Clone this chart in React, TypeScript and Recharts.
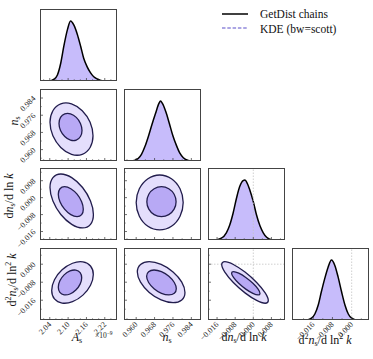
import React from "react";
import { ComposedChart, Area, Scatter, XAxis, YAxis, ReferenceLine } from "recharts";

// axis ranges and ticks
const asDomain = [2.008, 2.26];
const nsDomain = [0.9547, 0.9882];
const dnDomain = [-0.02, 0.014];
const d2Domain = [-0.0248, 0.0072];

const asTicks = [2.04, 2.1, 2.16, 2.22];
const nsTicks = [0.96, 0.968, 0.976, 0.984];
const dnTicks = [-0.016, -0.008, 0, 0.008];
const d2Ticks = [-0.016, -0.008, 0];

const asMinor = [2.02, 2.06, 2.08, 2.12, 2.14, 2.18, 2.2, 2.24];
const nsMinor = [0.956, 0.964, 0.972, 0.98];
const dnMinor = [-0.012, -0.004, 0.004, 0.012];
const d2Minor = [-0.02, -0.012, -0.004, 0.004];

// 1D marginals (normalised to peak = 1)
const asGrid = [2.038, 2.054, 2.065, 2.076, 2.086, 2.098, 2.108, 2.119, 2.13, 2.141, 2.151, 2.162, 2.173, 2.184, 2.195, 2.211];
const asDens = [0, 0.03, 0.1, 0.3, 0.58, 0.86, 1.0, 0.93, 0.78, 0.58, 0.38, 0.24, 0.14, 0.07, 0.035, 0.005];

const nsGrid = [0.9577, 0.9608, 0.9623, 0.9638, 0.9653, 0.9668, 0.9684, 0.9699, 0.9706, 0.9714, 0.9729, 0.9744, 0.9759, 0.9775, 0.979, 0.9805, 0.9827, 0.985];
const nsDens = [0, 0.04, 0.11, 0.24, 0.41, 0.6, 0.79, 0.96, 1.0, 0.96, 0.82, 0.63, 0.43, 0.26, 0.13, 0.055, 0.01, 0];

const dnGrid = [-0.017, -0.0141, -0.0119, -0.0104, -0.0089, -0.0074, -0.006, -0.0045, -0.0037, -0.003, -0.0015, 0, 0.0014, 0.0029, 0.0044, 0.0059, 0.0081];
const dnDens = [0, 0.03, 0.12, 0.25, 0.45, 0.7, 0.89, 0.99, 1.0, 0.97, 0.83, 0.64, 0.42, 0.24, 0.12, 0.045, 0.005];

const d2Grid = [-0.0188, -0.0167, -0.0153, -0.0139, -0.0126, -0.0112, -0.0098, -0.0084, -0.007, -0.0056, -0.0042, -0.0028, -0.0014, 0, 0.0021];
const d2Dens = [0, 0.03, 0.1, 0.25, 0.47, 0.69, 0.88, 1.0, 0.91, 0.71, 0.47, 0.25, 0.1, 0.03, 0];

// 2D contours (outer = 95%, inner = 68%), [x, y] pairs
const asNsOuter = [[2.1815, 0.9664], [2.172, 0.961], [2.1463, 0.9578], [2.1111, 0.9578], [2.0759, 0.961], [2.0502, 0.9664], [2.0407, 0.9727], [2.0502, 0.9781], [2.0759, 0.9813], [2.1111, 0.9813], [2.1463, 0.9781], [2.172, 0.9727]];
const asNsInner = [[2.1455, 0.9689], [2.1404, 0.9661], [2.1267, 0.9644], [2.1078, 0.9644], [2.089, 0.9661], [2.0752, 0.9689], [2.0702, 0.9722], [2.0752, 0.975], [2.089, 0.9766], [2.1078, 0.9766], [2.1267, 0.975], [2.1404, 0.9722]];

const asDnOuter = [[2.1828, -0.00795], [2.1733, -0.01261], [2.1473, -0.01432], [2.1118, -0.01261], [2.0762, -0.00795], [2.0503, -0.00158], [2.0407, 0.0048], [2.0503, 0.00946], [2.0762, 0.01117], [2.1118, 0.00946], [2.1473, 0.0048], [2.1733, -0.00158]];
const asDnInner = [[2.1497, -0.00545], [2.1443, -0.00804], [2.1293, -0.00899], [2.1088, -0.00804], [2.0884, -0.00545], [2.0734, -0.00191], [2.0679, 0.00163], [2.0734, 0.00422], [2.0884, 0.00517], [2.1088, 0.00422], [2.1293, 0.00163], [2.1443, -0.00191]];

const nsDnOuter = [[0.98045, -0.00228], [0.97908, -0.00877], [0.97534, -0.01353], [0.97023, -0.01526], [0.96511, -0.01353], [0.96137, -0.00877], [0.96, -0.00228], [0.96137, 0.00421], [0.96511, 0.00896], [0.97023, 0.0107], [0.97534, 0.00896], [0.97908, 0.00421]];
const nsDnInner = [[0.97736, -0.00191], [0.97651, -0.00545], [0.97418, -0.00804], [0.971, -0.00899], [0.96782, -0.00804], [0.96549, -0.00545], [0.96464, -0.00191], [0.96549, 0.00163], [0.96782, 0.00422], [0.971, 0.00517], [0.97418, 0.00422], [0.97651, 0.00163]];

const asD2Outer = [[2.1825, -0.00458], [2.1733, -0.00933], [2.1484, -0.01374], [2.1144, -0.01665], [2.0803, -0.01727], [2.0554, -0.01544], [2.0463, -0.01166], [2.0554, -0.00691], [2.0803, -0.00249], [2.1144, 0.00042], [2.1484, 0.00103], [2.1733, -0.0008]];
const asD2Inner = [[2.1445, -0.00599], [2.1393, -0.00885], [2.1253, -0.0115], [2.1062, -0.01325], [2.087, -0.01362], [2.073, -0.01252], [2.0679, -0.01024], [2.073, -0.00739], [2.087, -0.00474], [2.1062, -0.00299], [2.1253, -0.00262], [2.1393, -0.00372]];

const nsD2Outer = [[0.98122, -0.01254], [0.97983, -0.01587], [0.97604, -0.01709], [0.97086, -0.01587], [0.96568, -0.01254], [0.96189, -0.00798], [0.9605, -0.00343], [0.96189, -0.0001], [0.96568, 0.00112], [0.97086, -0.0001], [0.97604, -0.00343], [0.97983, -0.00798]];
const nsD2Inner = [[0.97745, -0.01089], [0.97659, -0.01293], [0.97423, -0.01367], [0.971, -0.01293], [0.96777, -0.01089], [0.96541, -0.00812], [0.96454, -0.00534], [0.96541, -0.00331], [0.96777, -0.00257], [0.971, -0.00331], [0.97423, -0.00534], [0.97659, -0.00812]];

const dnD2Outer = [[0.00663, -0.01611], [0.00525, -0.01735], [0.00148, -0.01611], [-0.00366, -0.01274], [-0.00881, -0.00812], [-0.01257, -0.0035], [-0.01395, -0.00012], [-0.01257, 0.00112], [-0.00881, -0.00012], [-0.00366, -0.0035], [0.00148, -0.00812], [0.00525, -0.01274]];
const dnD2Inner = [[0.00296, -0.01297], [0.00212, -0.01367], [-0.00017, -0.01297], [-0.00331, -0.01107], [-0.00644, -0.00847], [-0.00874, -0.00588], [-0.00958, -0.00398], [-0.00874, -0.00328], [-0.00644, -0.00398], [-0.00331, -0.00588], [-0.00017, -0.00847], [0.00212, -0.01107]];

const PW = 77;
const PH = 72;
const YW = 40;
const XH = 45;
const colLeft = [40, 124, 208, 292];
const rowTop = [9, 89, 168, 248];

const SERIF = "'Liberation Serif', 'DejaVu Serif', serif";
const OUTER_FILL = "#e4defc";
const INNER_FILL = "#b8a9f5";
const MARG_FILL = "#c7bcfb";
const EDGE = "#221d4d";

const fmt2 = (v: number) => v.toFixed(2);
const fmt3 = (v: number) => (v < -1e-12 ? "\u2212" : "") + Math.abs(v).toFixed(3);

type Param = { domain: number[]; ticks: number[]; minor: number[]; fmt: (v: number) => string };
const pAs: Param = { domain: asDomain, ticks: asTicks, minor: asMinor, fmt: fmt2 };
const pNs: Param = { domain: nsDomain, ticks: nsTicks, minor: nsMinor, fmt: fmt3 };
const pDn: Param = { domain: dnDomain, ticks: dnTicks, minor: dnMinor, fmt: fmt3 };
const pD2: Param = { domain: d2Domain, ticks: d2Ticks, minor: d2Minor, fmt: fmt3 };
const params = [pAs, pNs, pDn, pD2];

const isMajor = (ticks: number[], v: number) => ticks.some((t) => Math.abs(t - v) < 1e-9);

function XTick(props: any) {
  const { x, y, payload, majors, labels, fmt } = props;
  const major = isMajor(majors, payload.value);
  return (
    <g>
      <line x1={x} x2={x} y1={y} y2={y - (major ? 3 : 1.6)} stroke="#333" strokeWidth={0.7} />
      {labels && major && (
        <text transform={`translate(${x + 2},${y + 5}) rotate(-45)`} textAnchor="end" fontSize={8} fill="#222" fontFamily={SERIF}>
          {fmt(payload.value)}
        </text>
      )}
    </g>
  );
}

function YTick(props: any) {
  const { x, y, payload, majors, labels, fmt, hidden } = props;
  if (hidden) return <g />;
  const major = isMajor(majors, payload.value);
  return (
    <g>
      <line x1={x} x2={x + (major ? 3 : 1.6)} y1={y} y2={y} stroke="#333" strokeWidth={0.7} />
      {labels && major && (
        <text transform={`translate(${x - 4},${y + 1}) rotate(-45)`} textAnchor="end" fontSize={8} fill="#222" fontFamily={SERIF}>
          {fmt(payload.value)}
        </text>
      )}
    </g>
  );
}

function closedPath(pts: { x: number; y: number }[]) {
  const n = pts.length;
  let d = `M${pts[0].x},${pts[0].y}`;
  for (let i = 0; i < n; i++) {
    const p0 = pts[(i - 1 + n) % n];
    const p1 = pts[i];
    const p2 = pts[(i + 1) % n];
    const p3 = pts[(i + 2) % n];
    const c1x = p1.x + (p2.x - p0.x) / 6;
    const c1y = p1.y + (p2.y - p0.y) / 6;
    const c2x = p2.x - (p3.x - p1.x) / 6;
    const c2y = p2.y - (p3.y - p1.y) / 6;
    d += ` C${c1x},${c1y} ${c2x},${c2y} ${p2.x},${p2.y}`;
  }
  return d + " Z";
}

const toPts = (arr: number[][]) => arr.map(([x, y]) => ({ x, y }));

function Panel(props: {
  row: number;
  col: number;
  px: Param;
  py?: Param;
  children: React.ReactNode;
  data?: any[];
}) {
  const { row, col, px, py, children, data } = props;
  const showX = row === 3;
  const showY = col === 0 && row > 0;
  const yp = py;
  return (
    <div style={{ position: "absolute", left: colLeft[col] - YW, top: rowTop[row] }}>
      <ComposedChart width={PW + YW} height={PH + XH} data={data} margin={{ top: 0, right: 0, bottom: 0, left: 0 }}>
        <XAxis
          type="number"
          dataKey="x"
          domain={px.domain}
          allowDataOverflow
          ticks={[...px.ticks, ...px.minor]}
          interval={0}
          height={XH}
          tickSize={0}
          tickMargin={0}
          axisLine={false}
          tickLine={false}
          tick={<XTick majors={px.ticks} labels={showX} fmt={px.fmt} />}
        />
        <YAxis
          type="number"
          dataKey="y"
          domain={yp ? yp.domain : [0, 1.2]}
          allowDataOverflow
          ticks={yp ? [...yp.ticks, ...yp.minor] : [0]}
          interval={0}
          width={YW}
          tickSize={0}
          tickMargin={0}
          axisLine={false}
          tickLine={false}
          tick={<YTick majors={yp ? yp.ticks : []} labels={showY} fmt={yp ? yp.fmt : fmt3} hidden={!yp} />}
        />
        {children}
      </ComposedChart>
      <div
        style={{
          position: "absolute",
          left: YW,
          top: 0,
          width: PW,
          height: PH,
          border: "1px solid #444",
          boxSizing: "border-box",
          pointerEvents: "none",
        }}
      />
    </div>
  );
}

function marginal(grid: number[], dens: number[], domain: number[]) {
  return [{ x: domain[0], y: 0 }, ...grid.map((x, i) => ({ x, y: dens[i] })), { x: domain[1], y: 0 }];
}

function Contour({ data, fill }: { data: number[][]; fill: string }) {
  return (
    <Scatter
      data={toPts(data)}
      isAnimationActive={false}
      shape={() => <g />}
      line={(p: any) => <path d={closedPath(p.points)} fill={fill} stroke={EDGE} strokeWidth={1.3} />}
    />
  );
}

const refLine = { stroke: "#c4c4c4", strokeDasharray: "1.5 1.5", strokeWidth: 0.8 };

function Label({ cx, cy, rotate, children }: { cx: number; cy: number; rotate?: boolean; children: React.ReactNode }) {
  return (
    <div
      style={{
        position: "absolute",
        left: cx - 60,
        top: cy - 8,
        width: 120,
        height: 16,
        lineHeight: "16px",
        textAlign: "center",
        fontSize: 12,
        fontFamily: SERIF,
        color: "#111",
        transform: rotate ? "rotate(-90deg)" : undefined,
        whiteSpace: "nowrap",
      }}
    >
      {children}
    </div>
  );
}

const sub = { fontSize: 8, verticalAlign: "-2px" } as const;
const sup = { fontSize: 8, verticalAlign: "5px" } as const;

const nsLabel = (
  <span>
    <i>n</i>
    <span style={sub}>s</span>
  </span>
);
const dnLabel = (
  <span>
    d<i>n</i>
    <span style={sub}>s</span>/d ln <i>k</i>
  </span>
);
const d2Label = (
  <span>
    d<span style={sup}>2</span>
    <i>n</i>
    <span style={sub}>s</span>/d ln<span style={sup}>2</span> <i>k</i>
  </span>
);

export default function App() {
  const margData = [
    marginal(asGrid, asDens, asDomain),
    marginal(nsGrid, nsDens, nsDomain),
    marginal(dnGrid, dnDens, dnDomain),
    marginal(d2Grid, d2Dens, d2Domain),
  ];
  const pairs: { row: number; col: number; outer: number[][]; inner: number[][] }[] = [
    { row: 1, col: 0, outer: asNsOuter, inner: asNsInner },
    { row: 2, col: 0, outer: asDnOuter, inner: asDnInner },
    { row: 2, col: 1, outer: nsDnOuter, inner: nsDnInner },
    { row: 3, col: 0, outer: asD2Outer, inner: asD2Inner },
    { row: 3, col: 1, outer: nsD2Outer, inner: nsD2Inner },
    { row: 3, col: 2, outer: dnD2Outer, inner: dnD2Inner },
  ];

  return (
    <div style={{ position: "absolute", left: 0, top: 0, width: 373, height: 359, background: "#fff", overflow: "hidden" }}>
      {margData.map((d, i) => (
        <Panel key={`m${i}`} row={i} col={i} px={params[i]} data={d}>
          {(i === 2 || i === 3) && <ReferenceLine x={0} {...refLine} />}
          <Area
            type="monotone"
            dataKey="y"
            stroke="#000"
            strokeWidth={1.5}
            fill={MARG_FILL}
            fillOpacity={1}
            isAnimationActive={false}
            dot={false}
            activeDot={false}
          />
        </Panel>
      ))}
      {pairs.map((p) => (
        <Panel key={`p${p.row}${p.col}`} row={p.row} col={p.col} px={params[p.col]} py={params[p.row]}>
          {p.row === 3 && p.col === 2 && <ReferenceLine x={0} {...refLine} />}
          {p.row === 3 && p.col === 2 && <ReferenceLine y={0} {...refLine} />}
          <Contour data={p.outer} fill={OUTER_FILL} />
          <Contour data={p.inner} fill={INNER_FILL} />
        </Panel>
      ))}

      <Label cx={14} cy={121} rotate>
        {nsLabel}
      </Label>
      <Label cx={9} cy={196} rotate>
        {dnLabel}
      </Label>
      <Label cx={9} cy={280} rotate>
        {d2Label}
      </Label>

      <Label cx={77} cy={337}>
        <span>
          <i>A</i>
          <span style={sub}>s</span>
        </span>
      </Label>
      <div style={{ position: "absolute", left: 95, top: 330, fontSize: 7.5, fontFamily: SERIF, color: "#222", whiteSpace: "nowrap" }}>
        ×10<span style={{ fontSize: 5.5, verticalAlign: "3px" }}>−9</span>
      </div>
      <Label cx={167} cy={337}>
        {nsLabel}
      </Label>
      <Label cx={244} cy={337}>
        {dnLabel}
      </Label>
      <Label cx={325} cy={337}>
        {d2Label}
      </Label>

      <svg style={{ position: "absolute", left: 210, top: 0 }} width={163} height={42}>
        <line x1={12} x2={38} y1={14} y2={14} stroke="#000" strokeWidth={1.5} />
        <text x={50} y={18} fontSize={11.5} fontFamily={SERIF} fill="#111">
          GetDist chains
        </text>
        <line x1={12} x2={38} y1={28} y2={28} stroke="#5b4fc9" strokeWidth={1.2} strokeDasharray="3.5 1.8" />
        <text x={50} y={32.5} fontSize={11.5} fontFamily={SERIF} fill="#111">
          KDE (bw=scott)
        </text>
      </svg>
    </div>
  );
}
